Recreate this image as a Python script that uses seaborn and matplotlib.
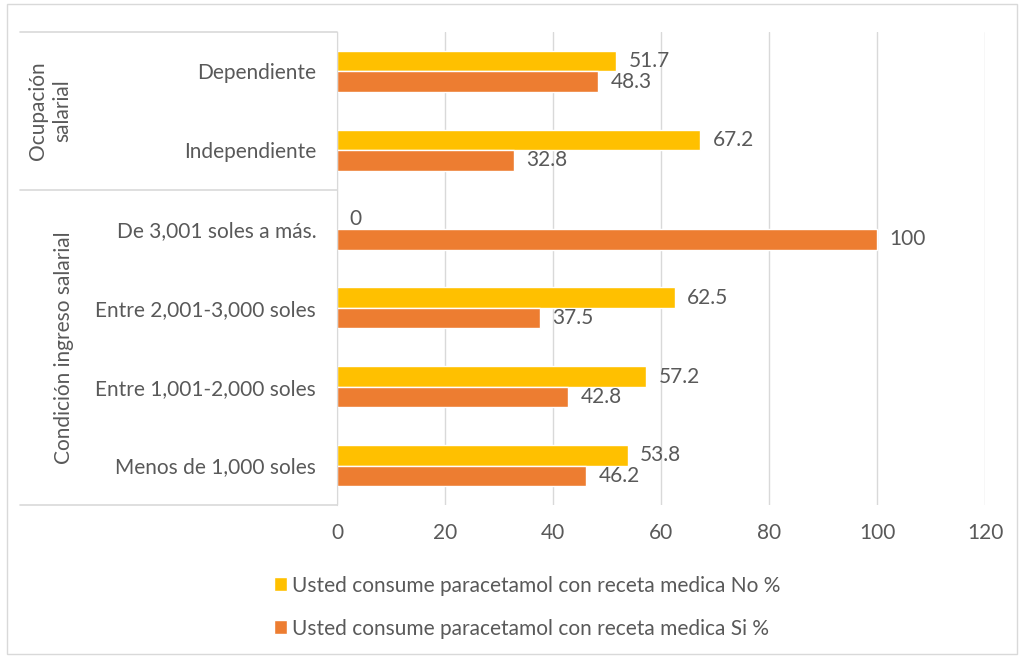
import numpy as np
import pandas as pd
import seaborn as sns
import matplotlib.pyplot as plt
from matplotlib.lines import Line2D
from matplotlib.patches import Rectangle, Patch

categories = ["Dependiente", "Independiente", "De 3,001 soles a más.",
              "Entre 2,001-3,000 soles", "Entre 1,001-2,000 soles", "Menos de 1,000 soles"]
no_vals = [51.7, 67.2, 0, 62.5, 57.2, 53.8]
si_vals = [48.3, 32.8, 100, 37.5, 42.8, 46.2]
series = ["Usted consume paracetamol con receta medica No %",
          "Usted consume paracetamol con receta medica Si %"]
groups = ["Ocupación\nsalarial", "Condición ingreso salarial"]
x_ticks = [0, 20, 40, 60, 80, 100, 120]

colors = ["#FFC000", "#ED7D31"]
txt = "#595959"
gridc = "#D9D9D9"
fs = 15

df = pd.DataFrame({
    "cat": categories * 2,
    "serie": [series[0]] * len(categories) + [series[1]] * len(categories),
    "val": no_vals + si_vals,
})

sns.set_style("white")
plt.rcParams['font.family'] = ['Lato', 'DejaVu Sans']

fig = plt.figure(figsize=(10.21, 6.57), dpi=100)
ax = fig.add_axes([337 / 1021, 1 - 505 / 657, 648 / 1021, 473 / 657])

sns.barplot(data=df, y="cat", x="val", hue="serie", order=categories,
            hue_order=series, palette=colors, width=0.52, orient="h",
            saturation=1, ax=ax, legend=False)

for c in ax.containers:
    ax.bar_label(c, fmt="{:g}", padding=9, color=txt, fontsize=fs)

ax.set_xlim(0, 120)
ax.set_xticks(x_ticks)
ax.set_xlabel("")
ax.set_ylabel("")
ax.grid(axis="x", color=gridc, linewidth=1)
ax.set_axisbelow(True)
for s in ["top", "right", "bottom"]:
    ax.spines[s].set_visible(False)
ax.spines["left"].set_color(gridc)
ax.tick_params(axis="x", length=0, pad=13, labelsize=fs, labelcolor=txt)
ax.tick_params(axis="y", length=0, pad=15, labelsize=fs, labelcolor=txt)

# group separators on the left
tr = ax.get_yaxis_transform()
x0 = (20 - 337) / 648
for yv in [-0.5, 1.5, 5.5]:
    ax.add_line(Line2D([x0, 0], [yv, yv], transform=tr, color=gridc,
                       linewidth=1.2, clip_on=False))
ax.text(-0.443, 0.5, groups[0], transform=tr, rotation=90, ha="center",
        va="center", color=txt, fontsize=fs, linespacing=1.25)
ax.text(-0.422, 3.5, groups[1], transform=tr, rotation=90, ha="center",
        va="center", color=txt, fontsize=fs)

handles = [Patch(facecolor=colors[0]), Patch(facecolor=colors[1])]
fig.legend(handles, series, loc="upper left",
           bbox_to_anchor=(255 / 1021, 1 - 557 / 657), frameon=False,
           handlelength=0.65, handleheight=0.65, handletextpad=0.25,
           labelspacing=1.1, fontsize=fs, labelcolor=txt)

fig.add_artist(Rectangle((7 / 1021, 3 / 657), 1010 / 1021, 650 / 657,
                         transform=fig.transFigure, fill=False,
                         edgecolor=gridc, linewidth=1))

fig.savefig("out.png", dpi=100)
